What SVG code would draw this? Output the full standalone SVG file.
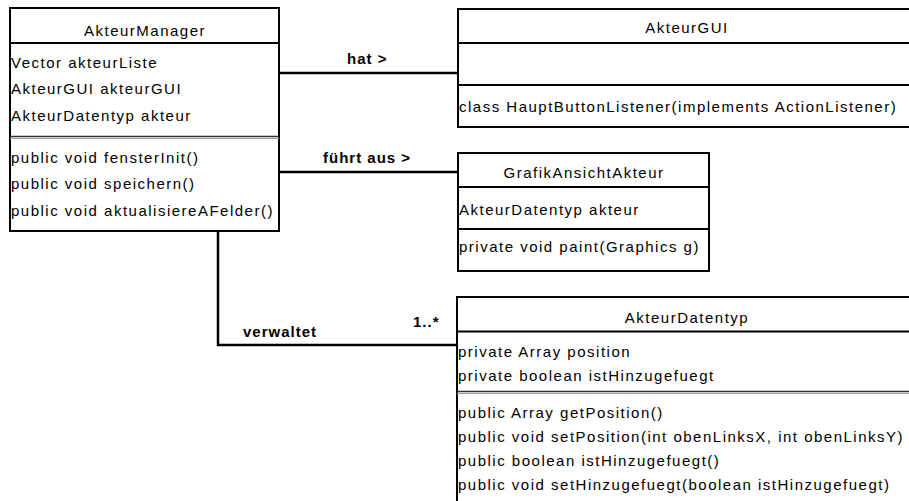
<svg xmlns="http://www.w3.org/2000/svg" width="909" height="501" viewBox="0 0 909 501">
<style>
  .box { fill: #ffffff; stroke: #000000; stroke-width: 2; }
  .sep { stroke: #000000; stroke-width: 2; }
  .sep3d { stroke: #303030; stroke-width: 1.5; }
  .sep3dl { stroke: #a0a0a0; stroke-width: 1; }
  .conn { fill: none; stroke: #000000; stroke-width: 2.5; }
  text { font-family: "Liberation Sans", Arial, sans-serif; font-size: 15px; fill: #000000; letter-spacing: 1.5px; }
  .title { text-anchor: middle; }
  .lbl { font-weight: bold; letter-spacing: 1px; }
</style>
<rect width="909" height="501" fill="#ffffff"/>

<g id="connectors">
  <path class="conn" d="M279,73 H460"/>
  <path class="conn" d="M279,172 H460"/>
  <path class="conn" d="M218,231 V345 H459"/>
  <text class="lbl" x="347" y="64">hat &gt;</text>
  <text class="lbl" x="323" y="163">führt aus &gt;</text>
  <text class="lbl" x="243" y="337">verwaltet</text>
  <text class="lbl" x="413" y="327">1..*</text>
</g>

<g id="AkteurManager">
  <rect class="box" x="10" y="8" width="269" height="223"/>
  <line class="sep" x1="10" y1="43" x2="279" y2="43"/>
  <line class="sep3d" x1="10" y1="136.5" x2="279" y2="136.5"/>
  <line class="sep3dl" x1="10" y1="138.5" x2="279" y2="138.5"/>
  <text class="title" x="145" y="36">AkteurManager</text>
  <text x="11" y="68">Vector akteurListe</text>
  <text x="11" y="94">AkteurGUI akteurGUI</text>
  <text x="11" y="121">AkteurDatentyp akteur</text>
  <text x="11" y="163">public void fensterInit()</text>
  <text x="11" y="189">public void speichern()</text>
  <text x="11" y="216">public void aktualisiereAFelder()</text>
</g>

<g id="AkteurGUI">
  <rect class="box" x="458" y="9" width="458" height="118"/>
  <line class="sep" x1="458" y1="43" x2="916" y2="43"/>
  <line class="sep" x1="458" y1="85" x2="916" y2="85"/>
  <text class="title" x="687" y="33">AkteurGUI</text>
  <text x="459" y="112">class HauptButtonListener(implements ActionListener)</text>
</g>

<g id="GrafikAnsichtAkteur">
  <rect class="box" x="458" y="153" width="251" height="118"/>
  <line class="sep" x1="458" y1="187" x2="709" y2="187"/>
  <line class="sep" x1="458" y1="229" x2="709" y2="229"/>
  <text class="title" x="584" y="178">GrafikAnsichtAkteur</text>
  <text x="459" y="215">AkteurDatentyp akteur</text>
  <text x="459" y="252">private void paint(Graphics g)</text>
</g>

<g id="AkteurDatentyp">
  <rect class="box" x="457" y="297" width="459" height="220"/>
  <line class="sep" x1="457" y1="331.5" x2="916" y2="331.5"/>
  <line class="sep3d" x1="457" y1="391.5" x2="916" y2="391.5"/>
  <line class="sep3dl" x1="457" y1="393.5" x2="916" y2="393.5"/>
  <text class="title" x="687" y="323">AkteurDatentyp</text>
  <text x="458" y="357">private Array position</text>
  <text x="458" y="381">private boolean istHinzugefuegt</text>
  <text x="458" y="418">public Array getPosition()</text>
  <text x="458" y="442">public void setPosition(int obenLinksX, int obenLinksY)</text>
  <text x="458" y="466">public boolean istHinzugefuegt()</text>
  <text x="458" y="490">public void setHinzugefuegt(boolean istHinzugefuegt)</text>
</g>
</svg>
